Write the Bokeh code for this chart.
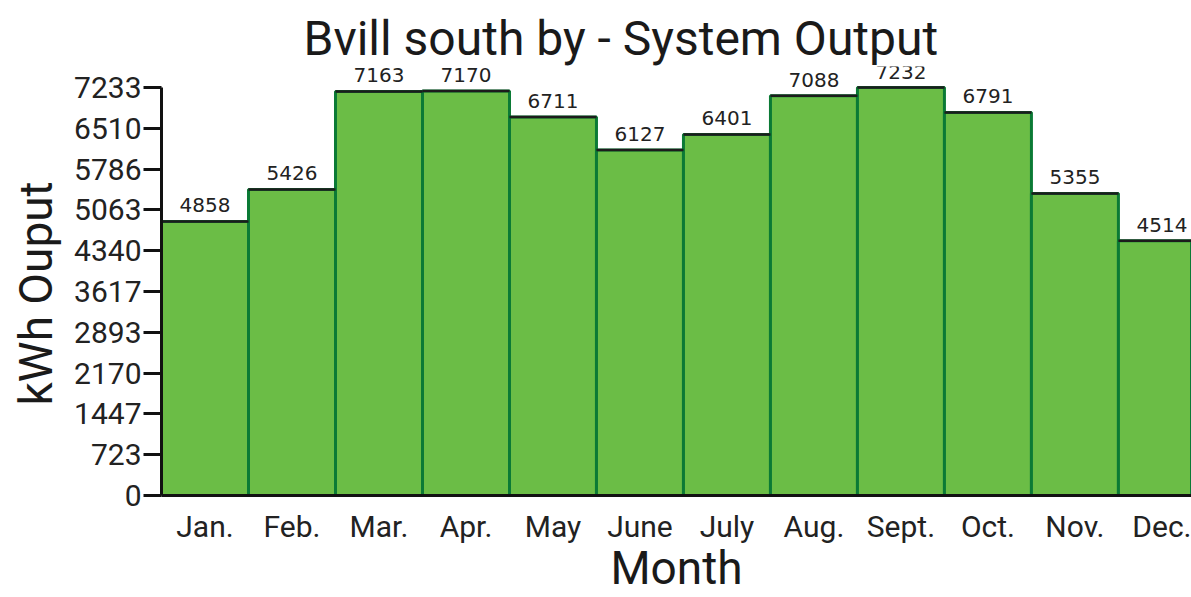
from bokeh.plotting import figure
from bokeh.models import ColumnDataSource, Range1d, FixedTicker, LabelSet, Title
from bokeh.core.properties import value
from bokeh.embed import file_html
from bokeh.resources import INLINE

months = ["Jan.", "Feb.", "Mar.", "Apr.", "May", "June", "July", "Aug.", "Sept.", "Oct.", "Nov.", "Dec."]
output_kwh = [4858, 5426, 7163, 7170, 6711, 6127, 6401, 7088, 7232, 6791, 5355, 4514]
y_ticks = [0, 723, 1447, 2170, 2893, 3617, 4340, 5063, 5786, 6510, 7233]

idx = list(range(len(months)))
src = ColumnDataSource(dict(
    x=idx,
    top=output_kwh,
    left=[i - 0.5 for i in idx],
    right=[i + 0.5 for i in idx],
    label=[str(v) for v in output_kwh],
))

TOP = 66
BOTTOM = 102
FRAME_H = 597 - TOP - BOTTOM
Y_END = y_ticks[-1] * FRAME_H / 408.0

p = figure(width=1191, height=597, output_backend="svg", toolbar_location=None,
           x_range=Range1d(-0.5, 11.34), y_range=Range1d(0, Y_END),
           min_border_left=161, min_border_right=0, min_border_top=TOP, min_border_bottom=BOTTOM)
p.outline_line_color = None
p.xgrid.visible = False
p.ygrid.visible = False

p.title = Title(text="Bvill south by - System Output", align="left", offset=142,
                text_font="Roboto", text_font_size="48px", text_font_style="normal",
                text_color="#1a1a1a", standoff=0)

p.vbar(x="x", top="top", width=1.0, source=src, fill_color="#6bbd46",
       line_color="#0b7a35", line_width=3)
p.segment(x0="left", y0="top", x1="right", y1="top", source=src,
          line_color="#1c1c1c", line_width=2.5)

labels = LabelSet(x="x", y="top", text="label", source=src, text_align="center",
                  text_baseline="alphabetic", y_offset=9,
                  text_font=value("DejaVu Sans"),
                  text_font_size=value("20px"), text_color=value("#222222"))
p.add_layout(labels)

# y axis
ya = p.yaxis[0]
ya.ticker = FixedTicker(ticks=y_ticks)
ya.bounds = (0, y_ticks[-1])
ya.axis_line_width = 3
ya.axis_line_color = "#111111"
ya.major_tick_line_width = 3
ya.major_tick_line_color = "#111111"
ya.major_tick_out = 18
ya.major_tick_in = 0
ya.minor_tick_line_color = None
ya.major_label_standoff = 2
ya.major_label_text_font = "Roboto"
ya.major_label_text_font_size = "30px"
ya.major_label_text_color = "#222222"

# y axis title as a left-side title, offset along the axis
p.add_layout(Title(text="kWh Ouput", align="left", offset=90, vertical_align="top",
                   text_font="Roboto", text_font_size="46px", text_font_style="normal",
                   text_color="#1a1a1a", standoff=14), "left")

# x axis
xa = p.xaxis[0]
xa.ticker = FixedTicker(ticks=idx)
xa.major_label_overrides = {i: m for i, m in zip(idx, months)}
xa.axis_line_width = 3
xa.axis_line_color = "#111111"
xa.major_tick_out = 0
xa.major_tick_in = 0
xa.minor_tick_line_color = None
xa.major_label_standoff = 13
xa.major_label_text_font = "Roboto"
xa.major_label_text_font_size = "30px"
xa.major_label_text_color = "#222222"
xa.axis_label = "Month"
xa.axis_label_text_font = "Roboto"
xa.axis_label_text_font_size = "46px"
xa.axis_label_text_font_style = "normal"
xa.axis_label_text_color = "#1a1a1a"
xa.axis_label_standoff = -6

open("out.html", "w").write(file_html(p, INLINE))
